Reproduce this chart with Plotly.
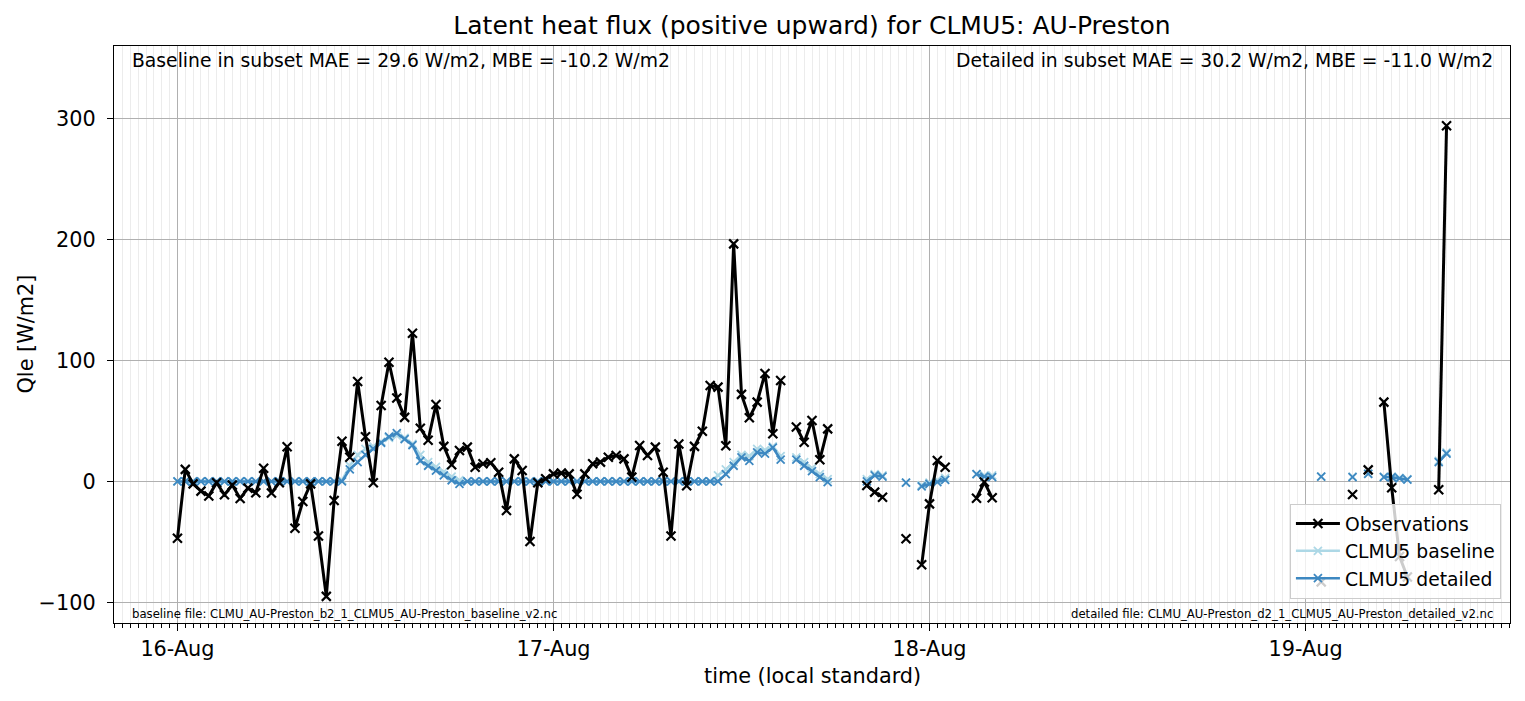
import pandas as pd
import plotly.graph_objects as go

N = None

# half-hourly time axis, 16-Aug 00:00 -> 19-Aug 09:00 (local standard)
times = pd.date_range("2003-08-16 00:00", periods=163, freq="30min")

# Observed latent heat flux [W/m2], rows of 12 half-hours
obs_qle = [
    -47, 10, -2, -8, -12, -1, -11, -3, -14, -5.5, -9.4, 11,
    -9.6, -1, 28.7, -38.6, -16.5, -2, -45, -95, -15.7, 33.3, 20, 82.6,
    37, -1, 62.8, 98.6, 69, 53, 122.6, 44, 34, 63.6, 29, 13.8,
    25.6, 28.4, 11.8, 14.6, 15.5, 7.7, -24, 18.7, 9, -49.6, -1, 2.2,
    6.3, 6.9, 6.3, -10.5, 6.3, 14.6, 16, 20, 21.5, 18.7, 3.6, 29.7,
    21.5, 28.4, 7.7, -45, 31, -3.5, 29, 41.5, 79.3, 78, 29.5, 196.4,
    72, 52.6, 65.6, 89.3, 39.4, 83.5, N, 45, 32.5, 50.4, 18, 43.5,
    N, N, N, N, -3.3, -8.8, -13, N, N, -47.4, N, -68.9,
    -18.5, 17.4, 11.8, N, N, N, -13.8, -0.5, -13.5, N, N, N,
    N, N, N, N, N, N, N, N, N, N, N, N,
    N, N, N, N, N, N, N, N, N, N, N, N,
    N, N, N, N, N, N, N, N, N, N, N, N,
    N, N, -83, N, N, N, -10.7, N, 9.6, N, 65.6, -5.2,
    -62, -79, N, N, N, -6.9, 294,
]

# CLMU5 baseline simulation [W/m2]
baseline_qle = [
    0, 0, 0, 0, 0, 0, 0, 0, 0, 0, 0, 0,
    0, 0, 0, 0, 0, 0, 0, 0, 0, 1, 13, 22,
    27, 29, 33, 36, 38, 36, 31, 22, 16, 12, 8, 4,
    1, 0, 0, 0, 0, 0, 0, 0, 0, 0, 0, 0,
    0, 0, 0, 0, 0, 0, 0, 0, 0, 0, 0, 0,
    0, 0, 0, 0, 0, 0, 0, 0, 0, 5, 10, 16,
    22, 21, 27, 26, 29, 21, N, 20, 16, 11, 6, 2,
    N, N, N, N, 2, 6, 5, N, N, -1, N, -3,
    -1, 1, 3, N, N, N, 6, 5, 5, N, N, N,
    N, N, N, N, N, N, N, N, N, N, N, N,
    N, N, N, N, N, N, N, N, N, N, N, N,
    N, N, N, N, N, N, N, N, N, N, N, N,
    N, N, 4, N, N, N, 4, N, 6.5, N, 4, 4,
    3, 2, N, N, N, 17, 24,
]

# CLMU5 detailed simulation [W/m2]
detailed_qle = [
    0, 0, 0, 0, 0, 0, 0, 0, 0, 0, 0, 0,
    0, 0, 0, 0, 0, 0, 0, 0, 0, 0, 10, 16,
    22, 27, 32, 37, 40, 35, 30, 17, 13, 9, 5, 1,
    -2, 0, 0, 0, 0, 0, 0, 0, 0, 0, 0, 0,
    0, 0, 0, 0, 0, 0, 0, 0, 0, 0, 0, 0,
    0, 0, 0, 0, 0, 0, 0, 0, 0, 0, 6, 13,
    20, 17, 24, 23, 28, 18, N, 18, 13, 8.5, 3.6, -0.5,
    N, N, N, N, 0, 5, 4, N, N, -1, N, -4,
    -2, -0.5, 1.4, N, N, N, 6, 4, 3.6, N, N, N,
    N, N, N, N, N, N, N, N, N, N, N, N,
    N, N, N, N, N, N, N, N, N, N, N, N,
    N, N, N, N, N, N, N, N, N, N, N, N,
    N, N, 4, N, N, N, 3.6, N, 6.3, N, 3.6, 3.5,
    2.5, 1.5, N, N, N, 16, 23,
]

y_ticks = [-100, 0, 100, 200, 300]
y_ticktext = ["\u2212100", "0", "100", "200", "300"]

title = "Latent heat flux (positive upward) for CLMU5: AU-Preston"
stats_left = "Baseline in subset MAE = 29.6 W/m2, MBE = -10.2 W/m2"
stats_right = "Detailed in subset MAE = 30.2 W/m2, MBE = -11.0 W/m2"
file_left = "baseline file: CLMU_AU-Preston_b2_1_CLMU5_AU-Preston_baseline_v2.nc"
file_right = "detailed file: CLMU_AU-Preston_d2_1_CLMU5_AU-Preston_detailed_v2.nc"

FONT = "DejaVu Sans"
BASE_COL = "#add8e6"
DET_COL = "#3d88c1"

fig = go.Figure()


def add_series(y, name, color, width, msize, mwidth, rank):
    fig.add_trace(go.Scatter(
        x=times, y=y, name=name, mode="lines+markers",
        line=dict(color=color, width=width),
        marker=dict(symbol="x-thin", size=msize, color=color,
                    line=dict(color=color, width=mwidth)),
        legendrank=rank,
    ))


add_series(baseline_qle, "CLMU5 baseline", BASE_COL, 2.5, 8, 1.8, 2)
add_series(detailed_qle, "CLMU5 detailed", DET_COL, 2.5, 8, 1.8, 3)
add_series(obs_qle, "Observations", "black", 3, 9, 2.2, 1)

# matplotlib-like 5% margins on the time axis
span = times[-1] - times[0]
x_range = [times[0] - 0.05 * span, times[-1] + 0.05 * span]

# page body has an 8px margin, so the figure is sized/offset to compensate
fig.update_layout(
    width=1517, height=693,
    margin=dict(l=106, r=15, t=38, b=78),
    plot_bgcolor="white", paper_bgcolor="white",
    font=dict(family=FONT, size=20.8, color="black"),
    title=dict(text=title, x=0.5, xref="paper", y=1 - 17 / 693,
               yanchor="middle", font=dict(size=25)),
    showlegend=True,
    legend=dict(x=0.9935, y=0.042, xanchor="right", yanchor="bottom",
                bgcolor="rgba(255,255,255,0.8)", bordercolor="#cccccc",
                borderwidth=1, font=dict(size=18.75), itemwidth=44),
)

fig.update_xaxes(
    type="date", range=x_range, automargin=False,
    showline=True, mirror=True, linecolor="black", linewidth=1.3,
    ticks="outside", ticklen=7, tickwidth=1.3, tickcolor="black",
    dtick=86400000, tick0="2003-08-16", tickformat="%d-%b",
    showgrid=True, gridcolor="#b0b0b0", gridwidth=1.2, zeroline=False,
    minor=dict(dtick=1800000, ticks="outside", ticklen=4, tickwidth=1,
               tickcolor="black", showgrid=True, gridcolor="#ececec",
               gridwidth=1),
)
fig.update_yaxes(
    range=[-117, 360], tickvals=y_ticks, ticktext=y_ticktext,
    automargin=False,
    showline=True, mirror=True, linecolor="black", linewidth=1.3,
    ticks="outside", ticklen=6, tickwidth=1.3, tickcolor="black",
    ticklabelstandoff=7,
    showgrid=True, gridcolor="#b0b0b0", gridwidth=1.2, zeroline=False,
)


def note(text, x, y, size, xanchor, **kw):
    fig.add_annotation(text=text, x=x, y=y, xref="paper", yref="paper",
                       showarrow=False, xanchor=xanchor, yanchor="middle",
                       font=dict(family=FONT, size=size), **kw)


note(stats_left, 0.0112, 0.9752, 18.75, "left")
note(stats_right, 0.9893, 0.9752, 18.75, "right")
note(file_left, 0.0112, 0.015, 11.7, "left")
note(file_right, 0.9893, 0.015, 11.7, "right")
note("Qle [W/m2]", 0, 0.5, 20.8, "center", xshift=-89, textangle=-90)
note("time (local standard)", 0.5, -0.0924, 20.8, "center")

fig.write_html("out.html")
